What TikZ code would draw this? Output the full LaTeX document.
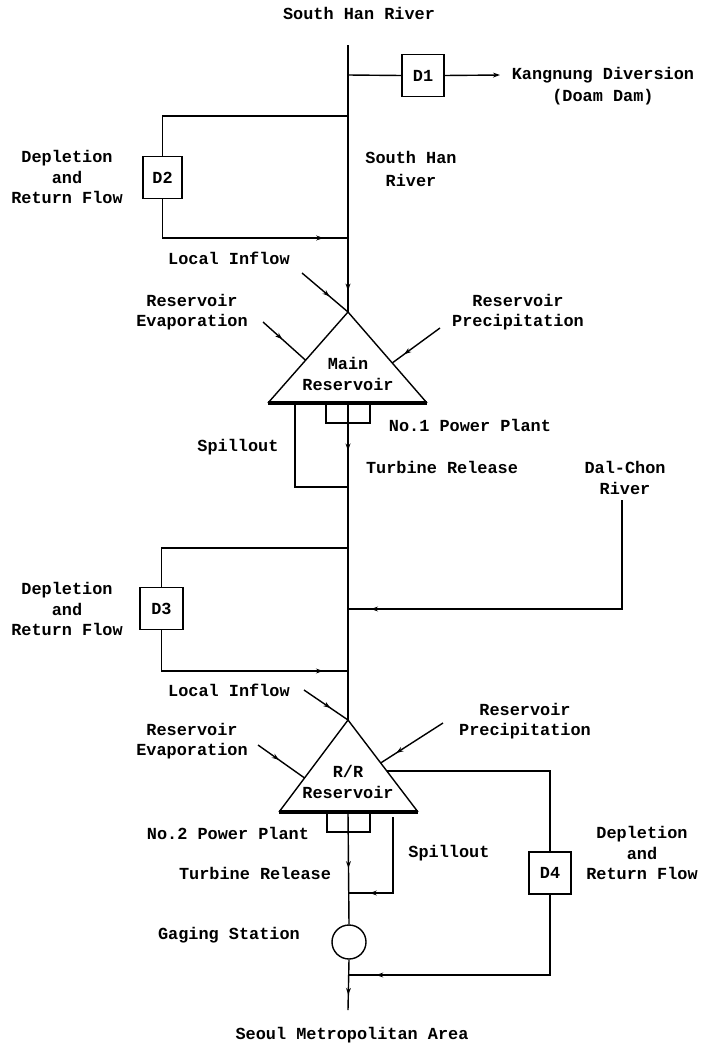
\documentclass[tikz,border=0pt]{standalone}
\usepackage{fontspec}
\usepackage{tikz}
\newfontfamily\plotfont{Liberation Mono}
\usetikzlibrary{positioning, arrows.meta, calc, decorations.markings}

\begin{document}
\begin{tikzpicture}[
        x=0.025cm, y=-0.025cm,
        >=Stealth,
        line width=1pt,
        % Base style for all the printed labels
        lbl/.style={
            font=\plotfont\bfseries\fontsize{12}{14.5}\selectfont,
            align=center,
            inner sep=0pt
        },
        % Style for the diversion / depletion boxes
        dbox/.style={
            draw,
            lbl,
            minimum width=1.05cm,
            minimum height=1.05cm
        },
        % Small flow marks sitting on a line
        flowmark/.style={
            postaction={decorate},
            decoration={markings,
                mark=at position #1 with {\arrow{Stealth[length=5pt,width=3.5pt]}}}
        },
        % Thick bottom edge of the reservoirs
        resbase/.style={line width=2.2pt}
    ]

    \useasboundingbox (0,0) rectangle (700,1046);

    % 1. Points on the main stem of the river
    \coordinate (src) at (348,45);
    \coordinate (j1) at (348,75);
    \coordinate (j2a) at (348,116);
    \coordinate (j2b) at (348,238);
    \coordinate (jSpill) at (348,487);
    \coordinate (j3a) at (348,548);
    \coordinate (jDal) at (348,609);
    \coordinate (j3b) at (348,671);
    \coordinate (jSpillR) at (348,893);
    \coordinate (j4) at (348,975);
    \coordinate (seoulEnd) at (348,1010);

    % 2. Main Reservoir
    \coordinate (mApex) at (348,312);
    \coordinate (mLeft) at (268,403);
    \coordinate (mRight) at (427,403);
    \coordinate (mBase) at (348,403);
    \draw (mLeft) -- (mApex) -- (mRight);
    \draw[resbase] (mLeft) -- (mRight);
    \node[lbl] (mName) at (348,374) {Main\\Reservoir};
    \draw (326,403) |- (370,423) -- (370,403);  % No.1 power plant

    % 3. R/R Reservoir
    \coordinate (rApex) at (348,720);
    \coordinate (rLeft) at (279,812);
    \coordinate (rRight) at (418,812);
    \coordinate (rBase) at (348,812);
    \draw (rLeft) -- (rApex) -- (rRight);
    \draw[resbase] (rLeft) -- (rRight);
    \node[lbl] (rName) at (348,782) {R/R\\Reservoir};
    \draw (327,812) |- (370,832) -- (370,812);  % No.2 power plant

    % 4. Boxes and gaging station
    \node[dbox] (D1) at (423,75.5) {D1};
    \node[dbox, minimum width=0.975cm] (D2) at (162.5,177.5) {D2};
    \node[dbox, minimum width=1.075cm] (D3) at (161.5,608.5) {D3};
    \node[dbox] (D4) at (550,873) {D4};
    \node[draw, circle, minimum size=0.85cm, inner sep=0pt] (gage) at (349,942) {};

    % 5. River stem
    \draw[flowmark=0.92] (src) -- (mApex);
    \draw[flowmark=0.15] (mBase) -- (rApex);
    \draw[flowmark=0.5] (rBase) -- (gage.north);
    \draw[flowmark=0.7] (gage.south) -- (seoulEnd);

    % 6. Diversions, depletions and tributary
    \coordinate (kEnd) at (500,75);
    \draw (j1) -- (D1.west);
    \draw[->, >={Stealth[length=5pt,width=3.5pt]}] (D1.east) -- (kEnd);
    \draw (j2a) -| (D2.north);
    \draw[flowmark=0.89] (D2.south) |- (j2b);
    \draw (j3a) -| (D3.north);
    \draw[flowmark=0.89] (D3.south) |- (j3b);
    \coordinate (dalTop) at (622,500);
    \draw[flowmark=0.94] (dalTop) |- (jDal);
    \coordinate (rTap) at ($(rApex)!0.554!(rRight)$);
    \draw (rTap) -| (D4.north);
    \draw[flowmark=0.9] (D4.south) |- (j4);

    % 7. Spillouts
    \draw (295,403) |- (jSpill);
    \draw[flowmark=0.82] (393,817) |- (jSpillR);

    % 8. Inflow, evaporation and precipitation lines
    \coordinate (mInflow) at (302,273);
    \coordinate (mEvap) at (263,322);
    \coordinate (mPrec) at (440,328);
    \draw[flowmark=0.6] (mInflow) -- (mApex);
    \draw[flowmark=0.45] (mEvap) -- ($(mApex)!0.53!(mLeft)$);
    \draw[flowmark=0.75] (mPrec) -- ($(mApex)!0.56!(mRight)$);
    \coordinate (rInflow) at (304,690);
    \coordinate (rEvap) at (258,745);
    \coordinate (rPrec) at (443,723);
    \draw[flowmark=0.6] (rInflow) -- (rApex);
    \draw[flowmark=0.45] (rEvap) -- ($(rApex)!0.63!(rLeft)$);
    \draw[flowmark=0.75] (rPrec) -- ($(rApex)!0.467!(rRight)$);

    % 9. Labels
    \node[lbl] (srcName) at (359,13) {South Han River};
    \node[lbl] (kName) at (603,86) {Kangnung Diversion\\[1.5pt](Doam Dam)};
    \node[lbl] (hanName) at (411,169) {South Han\\[1.5pt]River};
    \node[lbl] (d2Name) at (67,177) {Depletion\\and\\Return Flow};
    \node[lbl] (mInName) at (229,258) {Local Inflow};
    \node[lbl] (mEvName) at (192,312) {Reservoir\\Evaporation};
    \node[lbl] (mPrName) at (518,312) {Reservoir\\Precipitation};
    \node[lbl] (p1Name) at (470,425) {No.1 Power Plant};
    \node[lbl] (s1Name) at (238,447) {Spillout};
    \node[lbl] (t1Name) at (442,467) {Turbine Release};
    \node[lbl] (dalName) at (625,478) {Dal-Chon\\River};
    \node[lbl] (d3Name) at (67,609) {Depletion\\and\\Return Flow};
    \node[lbl] (rInName) at (229,690) {Local Inflow};
    \node[lbl] (rEvName) at (192,741) {Reservoir\\Evaporation};
    \node[lbl] (rPrName) at (525,721) {Reservoir\\Precipitation};
    \node[lbl] (p2Name) at (228,833) {No.2 Power Plant};
    \node[lbl] (s2Name) at (449,853) {Spillout};
    \node[lbl] (t2Name) at (255,873) {Turbine Release};
    \node[lbl] (d4Name) at (642,853) {Depletion\\and\\Return Flow};
    \node[lbl] (gName) at (229,935) {Gaging Station};
    \node[lbl] (seoulName) at (352,1035) {Seoul Metropolitan Area};

\end{tikzpicture}
\end{document}
